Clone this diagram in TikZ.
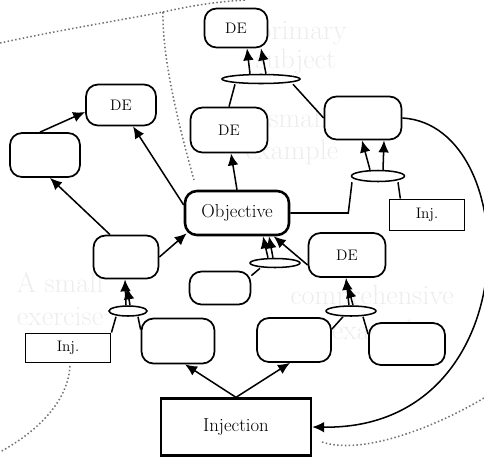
\documentclass[tikz,border=0pt]{standalone}
\usepackage{tikz}
\usetikzlibrary{arrows.meta,shapes.geometric}

\tikzset{
  box/.style={draw, rounded corners=3.6mm, line width=1.5pt, fill=white, inner sep=0pt,
    font=\fontsize{13}{15}\selectfont},
  objbox/.style={box, line width=2.2pt, font=\fontsize{16}{18}\selectfont},
  injbox/.style={draw, line width=1.6pt, fill=white, inner sep=0pt},
  andnode/.style={draw, ellipse, line width=1.3pt, fill=white, inner sep=0pt},
  arr/.style={-{Latex[length=3.6mm,width=3.2mm]}, line width=1.3pt},
  link/.style={line width=1.3pt},
  venn/.style={dotted, line width=1.3pt, black!55},
  ghost/.style={black!7, inner sep=0pt, font=\fontsize{24}{26}\selectfont}
}

\begin{document}
\begin{tikzpicture}[x=0.3mm, y=-0.3mm]
\useasboundingbox (0,0) rectangle (484,456);

% faint text showing through the page
\foreach \nm/\px/\py/\txt in {g1/302/33/primary, g2/296/62/subject, g3/298/118/small,
  g4/292/152/example, g5/60/283/A small, g6/60/317/exercise,
  g7/372/297/comprehensive, g8/378/332/example}
  \node[ghost] (\nm) at (\px,\py) {\txt};

% dotted boundaries
\draw[venn] (0,43) .. controls (60,30) and (110,22) .. (163,12);
\draw[venn] (163,12) .. controls (195,5) and (215,2) .. (245,0);
\draw[venn] (163,12) .. controls (162,60) and (180,130) .. (194,180);
\draw[venn] (70,366) .. controls (68,400) and (40,430) .. (0,452);
\draw[venn] (322,442) .. controls (360,455) and (430,430) .. (484,398);

% empty boxes
\foreach \nm/\px/\py/\w/\h in {boxTR/363/118/77/43, boxL/45/155/70/44, boxLM/126/257/65/43,
  boxBL/178/341/73/45, boxS/220/288/61/33, boxBM/294/340/74/44, boxBR/407/344/76/42}
  \node[box, minimum width=\w*0.3mm, minimum height=\h*0.3mm] (\nm) at (\px,\py) {};

% DE boxes
\foreach \nm/\px/\py/\w/\h in {deTop/236/28/63/39, deMid/229/130/77/45,
  deLeft/121/105/70/41, deR/347/255/77/44}
  \node[box, minimum width=\w*0.3mm, minimum height=\h*0.3mm] (\nm) at (\px,\py) {DE};

% junctions
\foreach \nm/\px/\py/\w/\h in {andTop/261/79/78/9, andR/378/176/53/11, andL/128/311/38/10,
  andM/275/263/50/9, andBR/351/311/50/10}
  \node[andnode, minimum width=\w*0.3mm, minimum height=\h*0.3mm] (\nm) at (\px,\py) {};

\node[objbox, minimum width=31.2mm, minimum height=13.2mm] (obj) at (237,213) {Objective};
\node[injbox, minimum width=22.5mm, minimum height=9.3mm, font=\fontsize{13}{15}\selectfont] (injR) at (427,215) {Inj.};
\node[injbox, minimum width=25.5mm, minimum height=8.7mm, font=\fontsize{13}{15}\selectfont] (injL) at (68,348) {Inj.};
\node[injbox, line width=2pt, minimum width=45mm, minimum height=17.1mm, font=\fontsize{16}{18}\selectfont] (inj) at (236,427) {Injection};

% top junction
\draw[arr] ([xshift=-3.3mm]andTop.north) -- ([xshift=3.3mm]deTop.south);
\draw[arr] ([xshift=1.5mm]andTop.north) -- ([xshift=7.5mm]deTop.south);
\draw[link] (deMid.north) -- ([xshift=-7.8mm]andTop.south);
\draw[link] (boxTR.west) -- ([xshift=9.6mm]andTop.south);

% around the objective
\draw[arr] (obj.north) -- ([xshift=0.6mm]deMid.south);
\draw[arr] ([yshift=2.4mm]obj.west) -- ([xshift=3.6mm]deLeft.south);
\draw[arr] ([xshift=-1.5mm]boxL.north) -- ([yshift=-2.1mm]deLeft.west);
\draw[arr] ([xshift=-4.8mm]boxLM.north) -- ([xshift=1.5mm]boxL.south);
\draw[arr] (boxLM.east) -- ([shift={(0.9mm,0.9mm)}]obj.south west);
\draw[link] (obj.east) -- ++(58,0) -- ([xshift=-7.8mm]andR.south);

% right junction
\draw[arr] ([xshift=-2.4mm]andR.north) -- ([xshift=-0.3mm]boxTR.south);
\draw[arr] ([xshift=1.5mm]andR.north) -- ([xshift=6.3mm]boxTR.south);
\draw[link] ([xshift=-8mm]injR.north) -- ([xshift=6mm]andR.south);

% left junction
\draw[arr] ([xshift=-0.6mm]andL.north) -- ([xshift=-0.3mm]boxLM.south);
\draw[arr] ([xshift=0.6mm]andL.north) -- ([xshift=0.3mm,yshift=-2.4mm]boxLM.south);
\draw[link] (injL.north east) -- ([xshift=-3.6mm]andL.south);
\draw[link] ([xshift=3mm]andL.south) -- ([yshift=-3.6mm]boxBL.north west);

% middle junction
\draw[arr] ([xshift=-2.1mm]andM.north) -- ([xshift=7.8mm]obj.south);
\draw[arr] ([xshift=-0.6mm]andM.north) -- ([xshift=9.6mm]obj.south);
\draw[arr] ([yshift=-3mm]deR.west) -- ([xshift=11mm]obj.south);
\draw[link] ([yshift=-1.5mm]boxS.north east) -- ([xshift=-4.5mm]andM.south);

% bottom right junction
\draw[arr] ([xshift=-0.6mm]andBR.north) -- ([xshift=-0.3mm]deR.south);
\draw[arr] ([xshift=0.6mm]andBR.north) -- ([xshift=0.3mm,yshift=-2.4mm]deR.south);
\draw[link] ([xshift=-2.4mm]andBR.south) -- ([yshift=-3.6mm]boxBM.north east);
\draw[link] ([xshift=3.6mm]andBR.south) -- ([yshift=-3.6mm]boxBR.north west);

% injection
\draw[arr] (inj.north) -- ([xshift=2.1mm]boxBL.south);
\draw[arr] (inj.north) -- ([xshift=-1.2mm]boxBM.south);
\draw[arr] (boxTR.east) .. controls (525,125) and (530,430) .. (inj.east);
\end{tikzpicture}
\end{document}
